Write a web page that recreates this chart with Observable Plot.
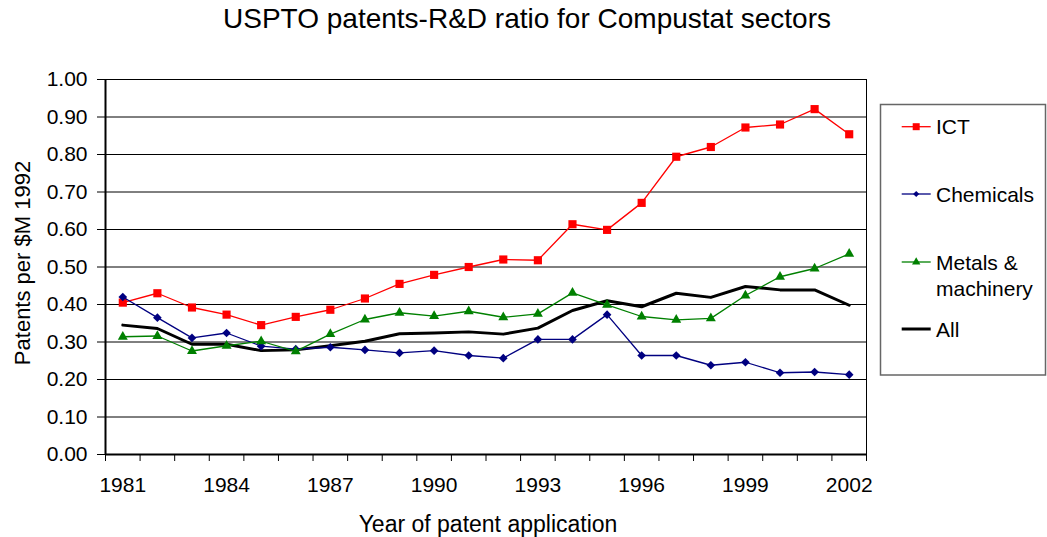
<!DOCTYPE html>
<html><head><meta charset="utf-8">
<script src="https://cdn.jsdelivr.net/npm/d3@7"></script>
<script src="https://cdn.jsdelivr.net/npm/@observablehq/plot@0.6"></script>
<style>
body{margin:0;background:#fff}
#wrap{position:relative;width:1047px;height:537px;overflow:hidden}
#overlay{position:absolute;left:0;top:0;pointer-events:none}
</style>
</head><body><div id="wrap"></div>
<script>
const years = [1981,1982,1983,1984,1985,1986,1987,1988,1989,1990,1991,1992,1993,1994,1995,1996,1997,1998,1999,2000,2001,2002];
const ict       = [0.405,0.430,0.392,0.373,0.345,0.367,0.386,0.416,0.455,0.479,0.500,0.520,0.518,0.614,0.599,0.671,0.794,0.820,0.872,0.880,0.921,0.854];
const chemicals = [0.420,0.365,0.311,0.324,0.289,0.281,0.286,0.279,0.271,0.277,0.264,0.257,0.307,0.307,0.373,0.264,0.264,0.238,0.246,0.218,0.220,0.213];
const metals    = [0.314,0.316,0.276,0.290,0.302,0.275,0.321,0.360,0.378,0.369,0.382,0.366,0.375,0.431,0.399,0.368,0.359,0.363,0.424,0.474,0.496,0.535];
const all       = [0.345,0.336,0.294,0.294,0.277,0.279,0.290,0.302,0.322,0.324,0.327,0.321,0.337,0.384,0.410,0.394,0.430,0.419,0.448,0.439,0.439,0.398];
const xTickLabels = [1981,1984,1987,1990,1993,1996,1999,2002];
const yTicks = [0,0.1,0.2,0.3,0.4,0.5,0.6,0.7,0.8,0.9,1.0];
const seriesNames = ["ICT","Chemicals","Metals & machinery","All"];

const FONT = "'Liberation Sans', Arial, Helvetica, sans-serif";
const boundaries = years.map(y => y - 0.5).concat([years[years.length-1] + 0.5]);

const chart = Plot.plot({
  width: 1047, height: 537,
  marginLeft: 105, marginRight: 181, marginTop: 79, marginBottom: 83,
  style: {fontFamily: FONT, color: "#000", background: "#fff"},
  x: {type: "linear", domain: [years[0] - 0.5, years[years.length-1] + 0.5]},
  y: {domain: [0, 1]},
  marks: [
    Plot.ruleY(yTicks, {stroke: "#000", strokeWidth: 1}),
    Plot.ruleX([years[years.length-1] + 0.5], {stroke: "#000", strokeWidth: 1}),
    Plot.axisY({ticks: yTicks, tickFormat: d3.format(".2f"), tickSize: 8, tickPadding: 10, fontSize: 21, label: null}),
    Plot.axisX({ticks: boundaries, tickSize: 7, tickFormat: () => "", label: null}),
    Plot.axisX({ticks: xTickLabels, tickSize: 0, tickPadding: 23, tickFormat: d => String(d), fontSize: 21, label: null}),
    Plot.ruleX([years[0] - 0.5], {stroke: "#000", strokeWidth: 2}),
    Plot.ruleY([0], {stroke: "#000", strokeWidth: 2}),
    Plot.line(years, {x: d => d, y: (d, i) => all[i], stroke: "#000", strokeWidth: 3}),
    Plot.line(years, {x: d => d, y: (d, i) => ict[i], stroke: "#ff0000", strokeWidth: 1.3}),
    Plot.dot(years, {x: d => d, y: (d, i) => ict[i], symbol: "square", r: 4.6, fill: "#ff0000", stroke: "none"}),
    Plot.line(years, {x: d => d, y: (d, i) => chemicals[i], stroke: "#000080", strokeWidth: 1.3}),
    Plot.dot(years, {x: d => d, y: (d, i) => chemicals[i], symbol: "diamond2", r: 3.9, fill: "#000080", stroke: "none"}),
    Plot.line(years, {x: d => d, y: (d, i) => metals[i], stroke: "#008000", strokeWidth: 1.3}),
    Plot.dot(years, {x: d => d, y: (d, i) => metals[i], symbol: "triangle", r: 3.7, fill: "#008000", stroke: "none"})
  ]
});
const wrap = document.getElementById("wrap");
wrap.appendChild(chart);

// Overlay: title, axis titles, legend
const ov = d3.select(wrap).append("svg").attr("id","overlay")
  .attr("width",1047).attr("height",537).style("font-family",FONT);
ov.append("text").attr("x",527).attr("y",28.3).attr("text-anchor","middle")
  .attr("font-size",28).text("USPTO patents-R&D ratio for Compustat sectors");
ov.append("text").attr("x",488).attr("y",531.5).attr("text-anchor","middle")
  .attr("font-size",23).text("Year of patent application");
ov.append("text").attr("transform","translate(29.5,263) rotate(-90)").attr("text-anchor","middle")
  .attr("font-size",22).text("Patents per $M 1992");

ov.append("rect").attr("x",880.5).attr("y",104.5).attr("width",165).attr("height",270.5)
  .attr("fill","#fff").attr("stroke","#666").attr("stroke-width",1.5);
const legend = [
  {name: seriesNames[0], color: "#ff0000", sym: d3.symbolSquare, size: 49, w: 1.3, cy: 126.7, lines: ["ICT"]},
  {name: seriesNames[1], color: "#000080", sym: d3.symbolDiamond2, size: 24, w: 1.3, cy: 194, lines: ["Chemicals"]},
  {name: seriesNames[2], color: "#008000", sym: d3.symbolTriangle, size: 30, w: 1.3, cy: 262, lines: ["Metals &", "machinery"]},
  {name: seriesNames[3], color: "#000", sym: null, size: 0, w: 3, cy: 329, lines: ["All"]}
];
for (const it of legend) {
  ov.append("line").attr("x1",901.7).attr("x2",930.7).attr("y1",it.cy).attr("y2",it.cy)
    .attr("stroke",it.color).attr("stroke-width",it.w);
  if (it.sym) ov.append("path").attr("d",d3.symbol(it.sym, it.size)()).attr("fill",it.color)
    .attr("transform",`translate(916.2,${it.cy})`);
  it.lines.forEach((ln, k) => {
    ov.append("text").attr("x",936).attr("y",it.cy + 7.5 + k*26).attr("font-size",21).text(ln);
  });
}
</script></body></html>
